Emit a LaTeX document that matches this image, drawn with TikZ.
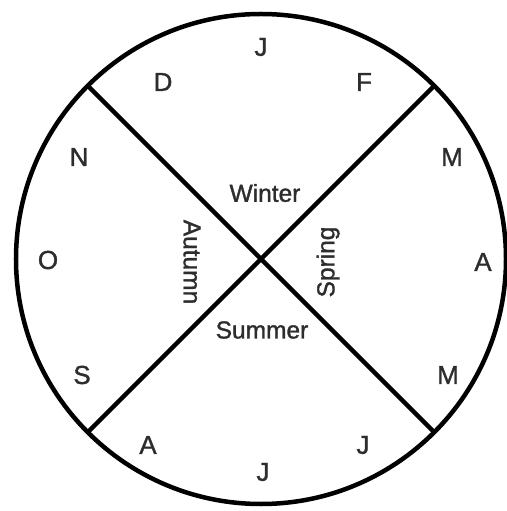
\documentclass[tikz,border=0pt]{standalone}
\usepackage{fontspec}
\setmainfont{Liberation Sans}
\newfontfamily\wheelfont{Liberation Sans}[FakeBold=1.3]
\usepackage{tikz}
\usetikzlibrary{positioning,calc}
\definecolor{textgray}{RGB}{45,45,45}

\begin{document}
\begin{tikzpicture}[x=1pt, y=1pt,
    month/.style={font=\wheelfont\fontsize{26}{30}\selectfont, text=textgray, inner sep=0pt},
    season/.style={font=\wheelfont\fontsize{24.5}{29}\selectfont, text=textgray, inner sep=0pt},
    rim/.style={draw=black, line width=4.5pt},
    divider/.style={draw=black, line width=4.5pt}
]
    \useasboundingbox (-261,-252) rectangle (245,259);

    % the year wheel
    \coordinate (c) at (0,0);
    \draw[rim] (c) circle[radius=245];
    \coordinate (nw) at (135:245);
    \coordinate (ne) at (45:245);
    \coordinate (sw) at (225:245);
    \coordinate (se) at (315:245);
    \draw[divider] (nw) -- (se);
    \draw[divider] (ne) -- (sw);

    % months, going round clockwise from the top
    \node[month] (jan) at (0,212) {J};
    \node[month] (feb) at (103,177) {F};
    \node[month] (mar) at (191,102) {M};
    \node[month] (apr) at (222,-3) {A};
    \node[month] (may) at (187,-116) {M};
    \node[month] (jun) at (102,-186) {J};
    \node[month] (jul) at (2,-213) {J};
    \node[month] (aug) at (-113,-186) {A};
    \node[month] (sep) at (-179,-116) {S};
    \node[month] (oct) at (-213,-1) {O};
    \node[month] (nov) at (-182,102) {N};
    \node[month] (dec) at (-98,177) {D};

    % seasons in the four quarters
    \node[season] (winter) at (4,66) {Winter};
    \node[season, rotate=90] (spring) at (67,-3) {Spring};
    \node[season] (summer) at (1,-71) {Summer};
    \node[season, rotate=-90] (autumn) at (-69,-3) {Autumn};
\end{tikzpicture}
\end{document}
